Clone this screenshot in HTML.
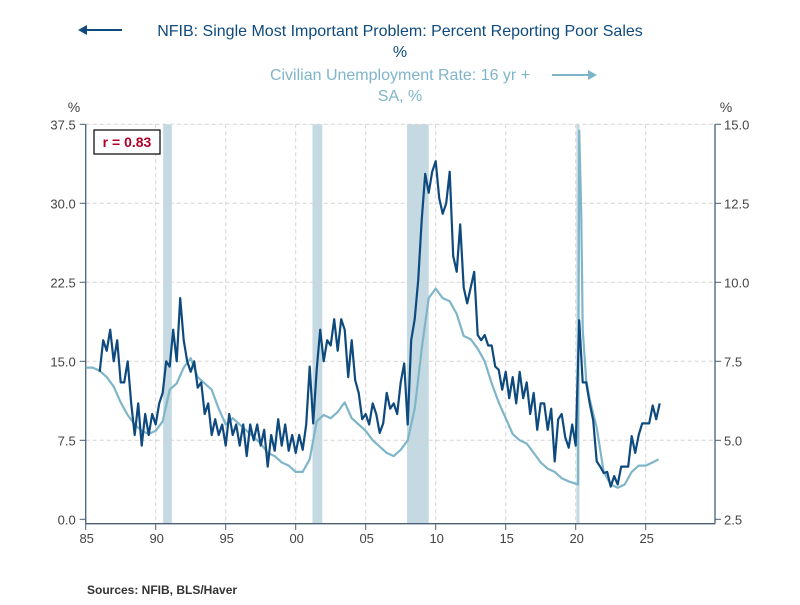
<!DOCTYPE html>
<html><head><meta charset="utf-8"><style>
body{margin:0;background:#fff;}
svg text{font-family:"Liberation Sans",sans-serif;}
</style></head><body>
<svg id="chart" width="800" height="600" xmlns="http://www.w3.org/2000/svg">
<g id="titles">
<line x1="80" y1="30" x2="122" y2="30" stroke="#0e4a7e" stroke-width="2"/>
<polygon points="78,30 87,25 87,35" fill="#0e4a7e"/>
<text x="400" y="36" text-anchor="middle" font-size="16" fill="#0e4a7e">NFIB: Single Most Important Problem: Percent Reporting Poor Sales</text>
<text x="400" y="57" text-anchor="middle" font-size="16" fill="#0e4a7e">%</text>
<text x="400" y="80" text-anchor="middle" font-size="16" fill="#7fb5c9">Civilian Unemployment Rate: 16 yr +</text>
<line x1="552" y1="75" x2="592" y2="75" stroke="#7fb5c9" stroke-width="2"/>
<polygon points="597,75 588,70 588,80" fill="#7fb5c9"/>
<text x="400" y="101" text-anchor="middle" font-size="16" fill="#7fb5c9">SA, %</text>
</g>
<text x="74" y="112" text-anchor="middle" font-size="14" fill="#444">%</text>
<text x="726" y="112" text-anchor="middle" font-size="14" fill="#444">%</text>
<g id="rec"></g><g id="grid"></g><g id="axes"></g><g id="series"></g>
<rect x="94" y="130" width="66" height="24" fill="#fff" stroke="#000" stroke-width="1.2"/>
<text x="127" y="147" text-anchor="middle" font-size="14" font-weight="bold" fill="#b0002a">r = 0.83</text>
<text x="87" y="594" font-size="12" font-weight="bold" fill="#333">Sources:  NFIB, BLS/Haver</text>
</svg>
<script>
const xTicks=[1985,1990,1995,2000,2005,2010,2015,2020,2025];
const xTickLabels=["85","90","95","00","05","10","15","20","25"];
const leftTicks=[0,7.5,15,22.5,30,37.5];
const leftTickLabels=["0.0","7.5","15.0","22.5","30.0","37.5"];
const rightTicks=[2.5,5,7.5,10,12.5,15];
const rightTickLabels=["2.5","5.0","7.5","10.0","12.5","15.0"];
const recessionStarts=[1990.53,2001.2,2007.95,2020.05];
const recessionEnds=[1991.15,2001.9,2009.5,2020.27];
const nfibStart=1986.0;
const nfibStep=0.25;
const nfibValues=[14,17,16,18, 15,17,13,13, 15,11,8,11, 7,10,8,10, 9,11,12,15,
14.5,18,15,21, 17,15,14,15, 12.5,13,10,11, 8,9.5,8,9, 7,10,8,9,
7,9,6,9, 7.5,9,7,8.5, 5,8,6.5,9.5, 7,9,6.5,8, 6.3,8,6.6,9,
14.5,9.1,14.2,18, 15,17,16.5,19, 16,19,18,13.5, 17,13.2,12,9.5, 10,9,11,10,
8.2,9.1,12,10.5, 11,10,13,14.8, 9,17,19,22.7, 28.4,32.8,31,33, 34,30.5,29,30,
33,25,23.5,28, 22,20.5,22,23.5, 17.5,17,17.5,16.5, 16.5,14.5,14.2,12.3, 14,11.5,13.5,11,
14,11.5,13,10, 12,8.5,11,11, 8.5,10.5,5.5,9.5, 10,7.8,6.8,9, 7,18.9,13,13,
11,9.4,5.5,5, 4.4,4.5,3.1,4.1, 3.3,5,5,5, 7.9,6.3,8,9.1, 9.1,9.1,10.8,9.5, 11];
const unempDates=[1985,1985.5,1986,1986.5,1987,1987.5,1988,1988.5,1989,1989.5,1990,1990.5,1991,1991.5,1992,1992.5,1993,1993.5,1994,1994.5,1995,1995.5,1996,1996.5,1997,1997.5,1998,1998.5,1999,1999.5,2000,2000.5,2001,2001.5,2002,2002.5,2003,2003.5,2004,2004.5,2005,2005.5,2006,2006.5,2007,2007.5,2008,2008.5,2009,2009.5,2010,2010.5,2011,2011.5,2012,2012.5,2013,2013.5,2014,2014.5,2015,2015.5,2016,2016.5,2017,2017.5,2018,2018.5,2019,2019.5,2020.17,2020.25,2020.4,2020.5,2020.75,2021,2021.5,2022,2022.5,2023,2023.5,2024,2024.5,2025,2025.5,2025.92];
const unempValues=[7.3,7.3,7.2,7.0,6.7,6.2,5.8,5.5,5.3,5.2,5.3,5.6,6.6,6.8,7.3,7.6,7.0,6.8,6.6,6.0,5.5,5.7,5.5,5.3,5.1,4.9,4.6,4.5,4.3,4.2,4.0,4.0,4.4,5.6,5.8,5.7,5.9,6.2,5.7,5.5,5.3,5.0,4.8,4.6,4.5,4.7,5.0,6.0,7.9,9.5,9.8,9.5,9.4,9.0,8.3,8.2,7.9,7.5,6.8,6.2,5.7,5.2,5.0,4.9,4.6,4.3,4.1,4.0,3.8,3.7,3.6,14.8,12.1,8.5,6.9,6.3,5.4,4.0,3.6,3.5,3.6,4.0,4.2,4.2,4.3,4.4];

const X0=85.7,X1=715,Y0=519.3,Y1=124.3;
const xs=t=>X0+(t-1985)*14;
const yL=v=>Y0-(v/37.5)*(Y0-Y1);
const yR=v=>Y0-((v-2.5)/12.5)*(Y0-Y1);
const NS="http://www.w3.org/2000/svg";
function mk(tag,attrs,parent){const e=document.createElementNS(NS,tag);for(const k in attrs)e.setAttribute(k,attrs[k]);document.getElementById(parent).appendChild(e);return e;}

recessionStarts.forEach((s,i)=>{
 const r=mk('rect',{x:xs(s),y:Y1,width:xs(recessionEnds[i])-xs(s),height:Y0-Y1+4,fill:'#c5d9e2'},'rec');
 
 
});
xTicks.forEach((t,i)=>{
 if(i>0){const g=mk('line',{x1:xs(t),x2:xs(t),y1:Y1,y2:523.7,stroke:'#d4d4d4','stroke-dasharray':'4,3'},'grid');
 
 }
 const tk=mk('line',{x1:xs(t),x2:xs(t),y1:523.7,y2:530,stroke:'#4a5f75'},'axes');
 
 
 const tx=mk('text',{x:xs(t)+1,y:543,'text-anchor':'middle','font-size':'13',fill:'#444'},'axes');
 tx.textContent=xTickLabels[i];
 
 
});
leftTicks.forEach((v,i)=>{
 if(i>0){const g=mk('line',{x1:X0,x2:X1,y1:yL(v),y2:yL(v),stroke:'#d4d4d4','stroke-dasharray':'4,3'},'grid');
 
 }
 const tk=mk('line',{x1:X0-6,x2:X0,y1:yL(v),y2:yL(v),stroke:'#4a5f75'},'axes');
 
 
 const tx=mk('text',{x:X0-10,y:yL(v)+5,'text-anchor':'end','font-size':'13',fill:'#444'},'axes');
 tx.textContent=leftTickLabels[i];
 
 
});
rightTicks.forEach((v,i)=>{
 const tk=mk('line',{x1:X1,x2:X1+6,y1:yR(v),y2:yR(v),stroke:'#4a5f75'},'axes');
 
 
 const tx=mk('text',{x:X1+9,y:yR(v)+5,'text-anchor':'start','font-size':'13',fill:'#444'},'axes');
 tx.textContent=rightTickLabels[i];
 
 
});
const ax=[[X0,Y1,X0,523.7,'left-axis'],[X1,Y1,X1,523.7,'right-axis'],[X0,523.7,X1,523.7,'x-axis']];
ax.forEach(a=>{const l=mk('line',{x1:a[0],y1:a[1],x2:a[2],y2:a[3],stroke:'#4a5f75','stroke-width':1.3},'axes');
 
 });

const up=unempDates.map((d,i)=>xs(d).toFixed(1)+','+yR(unempValues[i]).toFixed(1)).join(' ');
const ul=mk('polyline',{points:up,fill:'none',stroke:'#7fb5c9','stroke-width':2.2,'stroke-linejoin':'round'},'series');


const np=nfibValues.map((v,i)=>xs(nfibStart+i*nfibStep).toFixed(1)+','+yL(v).toFixed(1)).join(' ');
const nl=mk('polyline',{points:np,fill:'none',stroke:'#0e4a7e','stroke-width':2.2,'stroke-linejoin':'round'},'series');


</script>
</body></html>
